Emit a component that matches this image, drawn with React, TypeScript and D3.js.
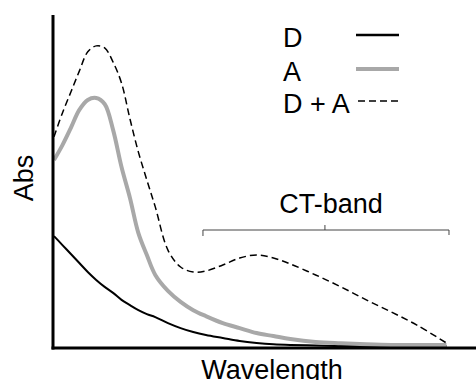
import React from "react";
import * as d3 from "d3";

// wavelength grid (arbitrary units, no ticks shown)
const wavelength = [0, 2, 4, 6, 8, 10, 12, 14, 16, 18, 20, 22, 24, 27, 30, 33, 36, 40, 44, 48, 52, 56, 62, 68, 74, 80, 86, 93];

const donor = [33.1, 30.4, 27.7, 25.0, 22.3, 19.9, 17.8, 16.0, 13.9, 12.3, 10.8, 9.6, 8.7, 6.9, 5.4, 4.2, 3.3, 2.4, 1.5, 0.9, 0.5, 0.3, 0.15, 0, 0, 0, 0, 0];
const acceptor = [56.0, 60.5, 65.7, 71.1, 74.1, 74.7, 72.9, 65.1, 53.9, 44.6, 34.0, 27.4, 21.4, 16.6, 13.3, 10.8, 9.0, 6.9, 5.4, 3.9, 3.0, 2.1, 1.2, 0.8, 0.5, 0.3, 0.3, 0.3];
const complex = [63.0, 70.2, 76.5, 82.8, 88.6, 90.4, 89.8, 85.5, 79.2, 68.4, 58.4, 50.0, 41.9, 28.9, 23.8, 22.3, 22.6, 24.4, 26.5, 27.4, 26.5, 24.7, 21.4, 17.8, 13.9, 10.2, 6.3, 0.9];

const legendLabels = ["D", "A", "D + A"];
const bandStart = 35.3;
const bandEnd = 93.6;
const bandMid = 64.2;

const W = 476;
const H = 380;
const FONT = "'Liberation Sans', Arial, sans-serif";

const App = () => {
  const x = d3.scaleLinear().domain([0, 100]).range([54, 476]);
  const y = d3.scaleLinear().domain([0, 100]).range([346, 14]);

  const line = (vals: number[]) =>
    d3
      .line<number>()
      .x((_, i) => x(wavelength[i]))
      .y((d) => y(d))
      .curve(d3.curveCatmullRom.alpha(0.5))(vals) || "";

  const series = [
    { vals: donor, stroke: "#000", width: 2, dash: null },
    { vals: acceptor, stroke: "#a8a8a8", width: 4, dash: null },
    { vals: complex, stroke: "#000", width: 1.5, dash: "7,4" },
  ];

  const legendY = [35, 69, 101];
  const braceY = 230;

  return (
    <svg width={W} height={H} style={{ position: "absolute", left: 0, top: 0 }} fontFamily={FONT}>
      <rect width={W} height={H} fill="#fff" />
      {series.map((s, i) => (
        <path
          key={i}
          d={line(s.vals)}
          fill="none"
          stroke={s.stroke}
          strokeWidth={s.width}
          strokeDasharray={s.dash || undefined}
        />
      ))}

      {/* axes */}
      <line x1={53} x2={53} y1={15} y2={349.5} stroke="#000" strokeWidth={3} />
      <line x1={51.5} x2={476} y1={348} y2={348} stroke="#000" strokeWidth={3} />

      {/* legend */}
      {legendLabels.map((lab, i) => (
        <g key={lab}>
          <text x={283} y={legendY[i] + 12} fontSize={27} fill="#000">
            {lab}
          </text>
          <line
            x1={series[i].dash ? 358 : 356}
            x2={399}
            y1={legendY[i]}
            y2={legendY[i]}
            stroke={series[i].stroke}
            strokeWidth={i === 2 ? 1.5 : series[i].width === 2 ? 2.5 : 4}
            strokeDasharray={series[i].dash || undefined}
          />
        </g>
      ))}

      {/* CT-band brace */}
      <path
        d={`M${x(bandStart)},${braceY + 6}V${braceY}H${x(bandEnd)}V${braceY + 5}M${x(bandMid)},${braceY}V${braceY - 5}`}
        fill="none"
        stroke="#444"
        strokeWidth={1}
      />
      <text x={331} y={213} fontSize={27} textAnchor="middle" fill="#000">
        CT-band
      </text>

      {/* axis titles */}
      <text transform="translate(33,178) rotate(-90)" fontSize={27} textAnchor="middle" fill="#000">
        Abs
      </text>
      <text x={272} y={379} fontSize={27} textAnchor="middle" fill="#000">
        Wavelength
      </text>
    </svg>
  );
};

export default App;
